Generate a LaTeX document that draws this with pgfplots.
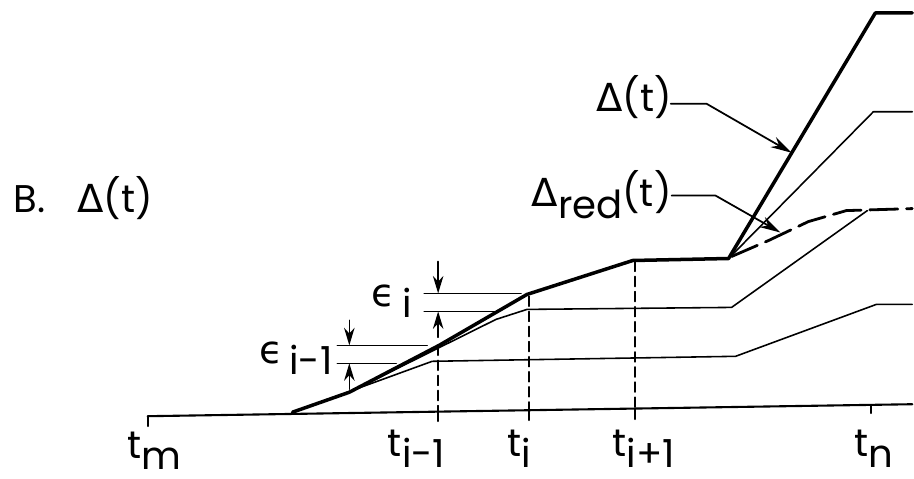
\documentclass[border=0pt]{standalone}
\usepackage{fontspec}
\setmainfont{Poppins}
\newfontfamily\gk{DejaVu Sans}
\usepackage{pgfplots}
\pgfplotsset{compat=1.18}
\usetikzlibrary{arrows.meta}
% lowered, full-size subscript in the lettering style
\newcommand\sub[1]{\raisebox{-0.3em}{#1}}
\newcommand\D{{\gk Δ}}
\newcommand\E{{\gk ϵ}}
\tikzset{lbl/.style={font=\fontsize{11}{13}\selectfont, inner sep=0pt}}

\begin{document}
\begin{tikzpicture}
\begin{axis}[
  scale only axis, width=9.14cm, height=4.79cm,
  xmin=0, xmax=914, ymin=0, ymax=479, y dir=reverse,
  hide axis, clip=false,
  every axis plot/.append style={line join=round, line cap=round},
]
% time axis
\addplot[black, line width=0.6pt] coordinates {(148,417) (914,405)};
% ticks
\addplot[black, line width=0.5pt] coordinates {(148,417) (148,427)};
\addplot[black, line width=0.5pt] coordinates {(439,412) (439,422)};
\addplot[black, line width=0.5pt] coordinates {(530,411) (530,421)};
\addplot[black, line width=0.5pt] coordinates {(636,410) (636,420)};
\addplot[black, line width=0.5pt] coordinates {(873,406) (873,414)};
% dashed verticals at t_{i-1}, t_i, t_{i+1}
\addplot[black, line width=0.5pt, dash pattern=on 2.8pt off 1.5pt] coordinates {(439,346) (439,412)};
\addplot[black, line width=0.5pt, dash pattern=on 2.8pt off 1.5pt] coordinates {(530,297) (530,411)};
\addplot[black, line width=0.5pt, dash pattern=on 2.8pt off 1.5pt] coordinates {(636,262) (636,410)};

% component curves
\addplot[black, line width=0.45pt] coordinates {(293,413) (433,362) (737,357) (878,305) (914,305)};
\addplot[black, line width=0.45pt] coordinates {(293,413) (350,393) (497,320) (528,310) (733,308) (869,211)};
\addplot[black, line width=0.45pt] coordinates {(634,261) (730,259) (875,112) (914,112)};
% total Delta(t)
\addplot[black, line width=1.0pt] coordinates {(293,413) (350,393) (440,346) (528,295) (634,261) (730,259) (877,13) (914,13)};
% reduced Delta_red(t)
\addplot[black, line width=0.8pt, dash pattern=on 8pt off 2.5pt] coordinates {(733,257) (770,241) (810,222) (848,211) (914,209)};

% epsilon markers
\addplot[black, line width=0.45pt] coordinates {(425,294) (522,294)};
\addplot[black, line width=0.45pt] coordinates {(425,312) (497,312)};
\addplot[black, line width=0.45pt] coordinates {(338,346) (428,346)};
\addplot[black, line width=0.45pt] coordinates {(338,364) (397,364)};
\addplot[black, line width=0.45pt, -{Stealth[length=5pt,width=3pt]}] coordinates {(439,262) (439,294)};
\addplot[black, line width=0.45pt, -{Stealth[length=5pt,width=3pt]}] coordinates {(439,338) (439,312)};
\addplot[black, line width=0.45pt, -{Stealth[length=5pt,width=3pt]}] coordinates {(350,321) (350,346)};
\addplot[black, line width=0.45pt, -{Stealth[length=5pt,width=3pt]}] coordinates {(350,390) (350,364)};

% leaders
\addplot[black, line width=0.5pt, -{Stealth[length=6pt,width=3.2pt]}] coordinates {(672,104) (708,104) (793,153)};
\addplot[black, line width=0.5pt, -{Stealth[length=6pt,width=3.2pt]}] coordinates {(673,196) (717,196) (782,233)};

% labels
\node[lbl, anchor=base west] at (axis cs:13,213) {B.};
\node[lbl, anchor=base west] at (axis cs:77,213) {\D(t)};
\node[lbl, anchor=base west] at (axis cs:597,112) {\D(t)};
\node[lbl, anchor=base west] at (axis cs:532,207) {\D\sub{red}(t)};
\node[lbl, anchor=base west] at (axis cs:372,307) {\E\,\sub{i}};
\node[lbl, anchor=base west] at (axis cs:259,364) {\E\,\sub{i-1}};

\node[lbl, anchor=base west] at (axis cs:127,459) {t\sub{m}};
\node[lbl, anchor=base west] at (axis cs:388,457) {t\sub{i-1}};
\node[lbl, anchor=base west] at (axis cs:508,457) {t\sub{i}};
\node[lbl, anchor=base west] at (axis cs:613,457) {t\sub{i+1}};
\node[lbl, anchor=base west] at (axis cs:855,457) {t\sub{n}};
\end{axis}
\path (current axis.south west) rectangle (current axis.north east);
\end{tikzpicture}
\end{document}
